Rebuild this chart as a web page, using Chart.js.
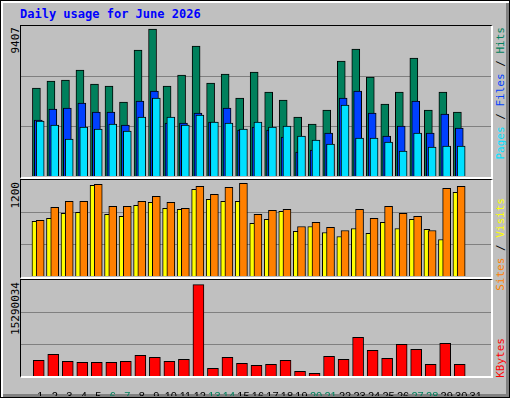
<!DOCTYPE html>
<html>
<head>
<meta charset="utf-8">
<script src="https://cdn.jsdelivr.net/npm/chart.js@4"></script>
<style>
  body { margin: 0; background: #fff; }
  #frame { position: absolute; left: 0; top: 0; width: 508px; height: 396px; background: #c0c0c0;
    border: 1px solid #000; box-shadow: inset 2px 2px 0 #fff, inset -3px -3px 0 #808080; }
  .panel { position: absolute; left: 20px; border-top: 1px solid #000; border-left: 1px solid #000;
    border-right: 2px solid #fff; border-bottom: 2px solid #fff; box-sizing: content-box; }
  canvas { position: absolute; }
  .txt { position: absolute; font-family: "DejaVu Sans Mono", monospace; font-size: 11px; white-space: nowrap; }
  .vert { writing-mode: vertical-rl; transform: rotate(180deg); }
  #title { left: 20px; top: 7px; color: #0000ff; font-weight: bold; font-size: 12px; }
</style>
</head>
<body>
<div id="frame"></div>
<div class="panel" style="top:25px;width:470px;height:151px"></div>
<div class="panel" style="top:179px;width:470px;height:97px"></div>
<div class="panel" style="top:279px;width:470px;height:96px"></div>
<div id="title" class="txt">Daily usage for June 2026</div>
<div class="txt vert" style="left:9px;top:27px;color:#000">9407</div>
<div class="txt vert" style="left:9px;top:182px;color:#000">1200</div>
<div class="txt vert" style="left:9px;top:282px;color:#000">15290034</div>
<div class="txt vert" style="left:494px;top:27px"><span style="color:#00e0ff">Pages</span> / <span style="color:#0040ff">Files</span> / <span style="color:#00805c">Hits</span></div>
<div class="txt vert" style="left:494px;top:198px"><span style="color:#ff8000">Sites</span> / <span style="color:#ffff00">Visits</span></div>
<div class="txt vert" style="left:494px;top:338px;color:#ff0000">KBytes</div>
<canvas id="c1" width="470" height="150" style="left:21px;top:26px"></canvas>
<canvas id="c2" width="470" height="96" style="left:21px;top:180px"></canvas>
<canvas id="c3" width="470" height="115" style="left:21px;top:281px"></canvas>
<script>
const days = Array.from({ length: 30 }, (_, i) => i + 1);
const dayLabels = Array.from({ length: 31 }, (_, i) => String(i + 1));
const weekendDays = [6, 7, 13, 14, 20, 21, 27, 28];

const hits = [5632, 6080, 6144, 6784, 5888, 5760, 4736, 8064, 9407, 5760, 6464, 8320, 5952, 6528, 4992,
  6656, 5376, 4864, 3776, 3328, 4224, 7360, 8128, 6336, 4608, 5376, 7552, 4224, 5376, 4096];
const files = [3584, 4288, 4352, 4672, 4096, 4096, 3264, 4800, 5440, 3392, 3392, 4032, 3456, 4352, 2944,
  3136, 2944, 2496, 1536, 1664, 2752, 4992, 5440, 4032, 2560, 3200, 4800, 2752, 3968, 3072];
const pages = [3520, 3264, 2368, 3136, 3008, 3328, 2880, 3776, 4992, 3776, 3264, 3904, 3456, 3392, 3008,
  3456, 3136, 3200, 2560, 2304, 2048, 4544, 2432, 2432, 2176, 1600, 2752, 1856, 1920, 1920];
const visits = [695, 858, 933, 933, 1146, 870, 870, 933, 996, 920, 845, 1121, 1021, 1109, 1159,
  770, 820, 833, 619, 670, 607, 569, 833, 720, 870, 782, 745, 569, 1096, 1121];
const sites = [682, 720, 782, 795, 1134, 770, 745, 883, 920, 845, 833, 1083, 958, 933, 933,
  657, 707, 808, 557, 619, 544, 494, 594, 532, 670, 594, 707, 582, 456, 1046];
const kbytes = [2520000, 3480000, 2360000, 2200000, 2200000, 2200000, 2360000, 3320000, 3000000, 2360000,
  2680000, 14710000, 1240000, 3000000, 2040000, 1720000, 1880000, 2520000, 750000, 430000,
  3160000, 2680000, 6210000, 4120000, 2840000, 5090000, 4280000, 1880000, 5250000, 1880000];

function series(values, shift, color, width, order) {
  return {
    data: values.map((v, i) => ({ x: days[i] + shift, y: v })),
    backgroundColor: color,
    borderColor: "#000",
    borderWidth: 1,
    borderSkipped: "bottom",
    barThickness: width,
    grouped: false,
    order,
  };
}

function panel(id, datasets, max, withLabels) {
  return new Chart(document.getElementById(id), {
    type: "bar",
    data: { datasets },
    options: {
      responsive: false,
      animation: false,
      events: [],
      layout: { padding: 0 },
      plugins: { legend: { display: false }, tooltip: { enabled: false } },
      scales: {
        x: {
          type: "linear", min: 0.2, max: 31.533,
          display: withLabels,
          grid: { display: false },
          border: { display: false },
          afterBuildTicks: (s) => { s.ticks = dayLabels.map((d) => ({ value: +d })); },
          afterFit: (s) => { if (withLabels) s.height = 20; },
          ticks: {
            autoSkip: false, maxRotation: 0, padding: 6,
            font: { family: "Liberation Sans", size: 11 },
            color: (c) => weekendDays.includes(c.tick.value) ? "#00805c" : "#000",
            callback: (v) => String(v),
          },
        },
        y: {
          min: 0, max,
          afterBuildTicks: (s) => { s.ticks = [{ value: max / 3 }, { value: max * 2 / 3 }]; },
          afterFit: (s) => { s.width = 0; },
          ticks: { display: false },
          border: { display: false },
          grid: { color: "#808080", lineWidth: 1, drawTicks: false },
        },
      },
    },
  });
}

panel("c1", [
  series(hits, -0.26, "#00805c", 8, 3),
  series(files, -0.13, "#0040ff", 8, 2),
  series(pages, 0, "#00e0ff", 8, 1),
], 9600, false);

panel("c2", [
  series(sites, -0.36, "#ffff00", 6, 2),
  series(visits, 0, "#ff8000", 8, 1),
], 1200, false);

panel("c3", [
  series(kbytes, -0.1, "#ff0000", 11, 1),
], 15290034, true);
</script>
</body>
</html>
